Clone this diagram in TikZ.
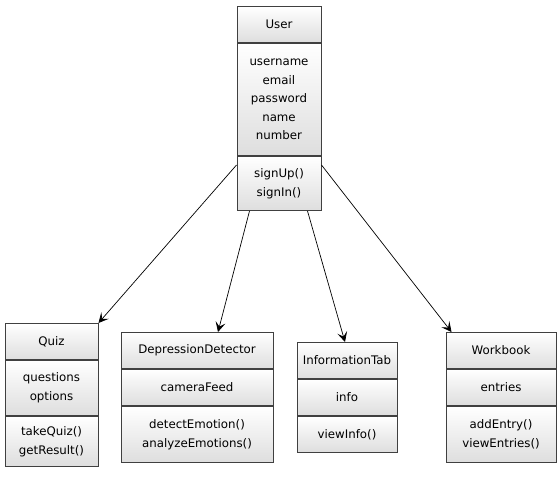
\documentclass[tikz,border=0pt]{standalone}
\usepackage{fontspec}
\setmainfont{DejaVu Sans}
\usetikzlibrary{positioning,arrows.meta}

\tikzset{
  part/.style={draw=black!75, line width=1pt, top color=white, bottom color=black!13,
    align=center, inner sep=0pt, font=\fontsize{11.8}{18.6}\selectfont},
  arr/.style={-{Stealth[length=10pt,width=10pt,inset=4.5pt]}, line width=0.7pt}
}

\begin{document}
\begin{tikzpicture}[x=1pt,y=1pt]
  \useasboundingbox (0,0) rectangle (559,-478);

  % User
  \node[part, minimum width=84pt, minimum height=36pt, anchor=north] (User) at (279,-6) {User};
  \node[part, minimum width=84pt, minimum height=112pt, below=0pt of User] (UserAttr) {username\\email\\password\\name\\number};
  \node[part, minimum width=84pt, minimum height=54pt, below=0pt of UserAttr] (UserOps) {signUp()\\signIn()};

  % Quiz
  \node[part, minimum width=93pt, minimum height=36pt, anchor=north] (Quiz) at (51.5,-323) {Quiz};
  \node[part, minimum width=93pt, minimum height=55pt, below=0pt of Quiz] (QuizAttr) {questions\\options};
  \node[part, minimum width=93pt, minimum height=50pt, below=0pt of QuizAttr] (QuizOps) {takeQuiz()\\getResult()};

  % DepressionDetector
  \node[part, minimum width=152pt, minimum height=36pt, anchor=north] (Detector) at (197,-332) {DepressionDetector};
  \node[part, minimum width=152pt, minimum height=36pt, below=0pt of Detector] (DetectorAttr) {cameraFeed};
  \node[part, minimum width=152pt, minimum height=56pt, below=0pt of DetectorAttr] (DetectorOps) {detectEmotion()\\analyzeEmotions()};

  % InformationTab
  \node[part, minimum width=100pt, minimum height=36pt, anchor=north] (InfoTab) at (347,-342) {InformationTab};
  \node[part, minimum width=100pt, minimum height=36pt, below=0pt of InfoTab] (InfoTabAttr) {info};
  \node[part, minimum width=100pt, minimum height=36pt, below=0pt of InfoTabAttr] (InfoTabOps) {viewInfo()};

  % Workbook
  \node[part, minimum width=110pt, minimum height=36pt, anchor=north] (Workbook) at (501,-332) {Workbook};
  \node[part, minimum width=110pt, minimum height=36pt, below=0pt of Workbook] (WorkbookAttr) {entries};
  \node[part, minimum width=110pt, minimum height=56pt, below=0pt of WorkbookAttr] (WorkbookOps) {addEntry()\\viewEntries()};

  % associations
  \coordinate (toQuiz) at ([yshift=-9pt]UserOps.north west);
  \coordinate (toDetector) at ([xshift=13pt]UserOps.south west);
  \coordinate (toInfoTab) at ([xshift=-14pt]UserOps.south east);
  \coordinate (toWorkbook) at ([yshift=-9pt]UserOps.north east);

  \draw[arr] (toQuiz) -- (Quiz.north east);
  \draw[arr] (toDetector) -- ([xshift=21pt]Detector.north);
  \draw[arr] (toInfoTab) -- ([xshift=-2pt]InfoTab.north);
  \draw[arr] (toWorkbook) -- ([xshift=6pt]Workbook.north west);
\end{tikzpicture}
\end{document}
